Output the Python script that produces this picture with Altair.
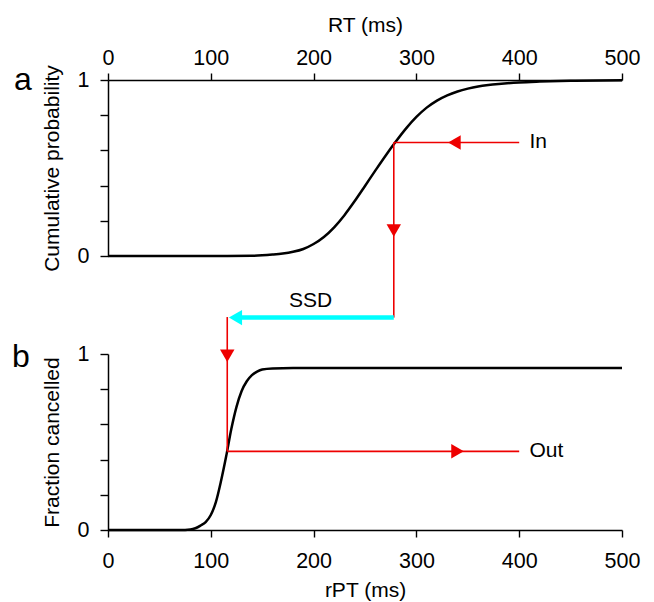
import altair as alt
import pandas as pd

# --- data ---
rt_ms = [0, 100, 140, 160, 170, 180, 190, 200, 210, 220, 230, 240, 250, 260, 270,
         280, 290, 300, 310, 320, 330, 340, 350, 360, 370, 380, 400, 420, 450, 500]
cum_prob = [0, 0, 0.001, 0.008, 0.014, 0.024, 0.040, 0.068, 0.108, 0.163, 0.232, 0.312,
            0.398, 0.485, 0.57, 0.65, 0.725, 0.79, 0.843, 0.883, 0.913, 0.935, 0.951,
            0.963, 0.971, 0.977, 0.986, 0.991, 0.996, 0.999]

rpt_ms = [0, 70, 80, 85, 90, 95, 100, 105, 110, 115, 120, 125, 130, 135, 140, 145,
          150, 160, 180, 500]
frac_cancel = [0, 0, 0.003, 0.01, 0.025, 0.045, 0.085, 0.16, 0.28, 0.42, 0.575, 0.70,
               0.79, 0.845, 0.88, 0.90, 0.912, 0.918, 0.92, 0.92]

x_ticks = [0, 100, 200, 300, 400, 500]
y_ticks = [0, 0.2, 0.4, 0.6, 0.8, 1]

# annotation values
rt_cross = 278       # RT where "In" meets the curve
in_level = 0.645
rpt_cross = 116      # rPT where the SSD shift lands
out_level = 0.447
label_x = 400
ssd_level_top = -0.35    # SSD arrow level in panel a units
ssd_level_bottom = 1.21  # same level in panel b units

RED = "#ee0000"
CYAN = "#00ffff"
FONT = "Liberation Sans"
LABEL_SIZE = 21.5
TITLE_SIZE = 21

df_top = pd.DataFrame({"x": rt_ms, "y": cum_prob})
df_bot = pd.DataFrame({"x": rpt_ms, "y": frac_cancel})

xs = alt.Scale(domain=[0, 500], nice=False, zero=False)
ys = alt.Scale(domain=[0, 1], nice=False)
ylab = "datum.value == 0 ? '0' : (datum.value == 1 ? '1' : '')"


def make_panel(df, xtitle, xorient, ytitle, letter, rules, cyan_rules, heads, texts,
               cyan_heads, extra_texts=None):
    X = alt.X("x:Q", scale=xs, title=xtitle,
              axis=alt.Axis(orient=xorient, values=x_ticks, tickSize=7,
                            labelPadding=4 if xorient == "top" else 13,
                            titlePadding=12 if xorient == "top" else 8,
                            labelFlush=False, format="d"))
    Y = alt.Y("y:Q", scale=ys, title=ytitle,
              axis=alt.Axis(values=y_ticks, labelExpr=ylab, tickSize=8,
                            labelPadding=11, titlePadding=15))
    curve = alt.Chart(df).mark_line(color="black", strokeWidth=2.5,
                                    interpolate="monotone").encode(x=X, y=Y)
    red_rule = alt.Chart(pd.DataFrame(rules)).mark_rule(
        color=RED, strokeWidth=1.6).encode(x=X, x2="x2:Q", y=Y, y2="y2:Q")
    layers = [curve, red_rule]
    if cyan_rules:
        layers.append(alt.Chart(pd.DataFrame(cyan_rules)).mark_rule(
            color=CYAN, strokeWidth=4.5).encode(x=X, x2="x2:Q", y=Y, y2="y2:Q"))
    for shp, pts in heads.items():
        layers.append(alt.Chart(pd.DataFrame(pts)).mark_point(
            shape=shp, filled=True, size=210, color=RED, opacity=1,
            strokeWidth=0).encode(x=X, y=Y))
    if cyan_heads:
        layers.append(alt.Chart(pd.DataFrame(cyan_heads)).mark_point(
            shape="triangle-left", filled=True, size=230, color=CYAN, opacity=1,
            strokeWidth=0).encode(x=X, y=Y))
    layers.append(alt.Chart(pd.DataFrame(texts)).mark_text(
        font=FONT, fontSize=TITLE_SIZE, color="black", baseline="middle",
        align="left").encode(x=X, y=Y, text="t:N"))
    if extra_texts:
        layers.append(alt.Chart(pd.DataFrame(extra_texts)).mark_text(
            font=FONT, fontSize=TITLE_SIZE, color="black", baseline="middle",
            align="center").encode(x=X, y=Y, text="t:N"))
    layers.append(alt.Chart(pd.DataFrame({"t": [letter["t"]]})).mark_text(
        font=FONT, fontSize=32, color="black", align="left",
        baseline="alphabetic").encode(text="t:N", x=alt.value(letter["dx"]),
                                      y=alt.value(letter["dy"])))
    return alt.layer(*layers).properties(width=514, height=176)


top = make_panel(
    df_top, "RT (ms)", "top", "Cumulative probability",
    {"t": "a", "dx": -94, "dy": 10},
    rules={"x": [rt_cross, rt_cross], "x2": [label_x, rt_cross],
           "y": [in_level, in_level], "y2": [in_level, ssd_level_top]},
    cyan_rules={"x": [rt_cross], "x2": [126], "y": [ssd_level_top], "y2": [ssd_level_top]},
    heads={"triangle-left": {"x": [337], "y": [in_level]},
           "triangle-down": {"x": [rt_cross], "y": [0.145]}},
    texts={"x": [410], "y": [in_level], "t": ["In"]},
    cyan_heads={"x": [124], "y": [ssd_level_top]},
    extra_texts={"x": [197], "y": [-0.256], "t": ["SSD"]},
)

bottom = make_panel(
    df_bot, "rPT (ms)", "bottom", "Fraction cancelled",
    {"t": "b", "dx": -96, "dy": 13},
    rules={"x": [rpt_cross, rpt_cross], "x2": [rpt_cross, label_x],
           "y": [ssd_level_bottom, out_level], "y2": [out_level, out_level]},
    cyan_rules=None,
    heads={"triangle-down": {"x": [rpt_cross], "y": [0.99]},
           "triangle-right": {"x": [340], "y": [out_level]}},
    texts={"x": [410], "y": [out_level], "t": ["Out"]},
    cyan_heads=None,
)

chart = alt.vconcat(top, bottom, spacing=98, bounds="flush").configure_view(
    stroke=None
).configure_axis(
    grid=False, domainColor="black", tickColor="black", labelColor="black",
    titleColor="black", labelFont=FONT, titleFont=FONT, labelFontSize=LABEL_SIZE,
    titleFontSize=TITLE_SIZE, titleFontWeight="normal", domainWidth=1.5, tickWidth=1.4,
).properties(padding={"left": 4, "top": 6, "right": 5, "bottom": 0})

chart.save("out.html", embed_options={"renderer": "svg", "actions": False})
